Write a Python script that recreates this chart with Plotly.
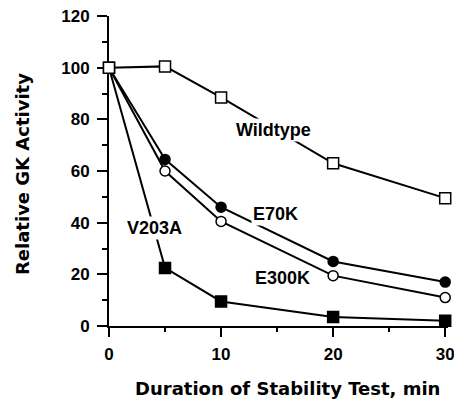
import plotly.graph_objects as go

minutes = [0, 5, 10, 20, 30]
wildtype = [100, 100.5, 88.5, 63, 49.5]
e70k = [100, 64.5, 46, 25, 17]
e300k = [100, 60, 40.5, 19.5, 11]
v203a = [100, 22.5, 9.5, 3.5, 2]

labels = ["Wildtype", "E70K", "E300K", "V203A"]
label_x = [14.64, 14.87, 15.49, 4.08]
label_y = [75.8, 43.4, 18.4, 37.8]

x_ticks = [0, 10, 20, 30]
y_ticks = [0, 20, 40, 60, 80, 100, 120]

fig = go.Figure()

def add(y, symbol, fill, size):
    fig.add_trace(go.Scatter(
        x=minutes, y=y, mode="lines+markers",
        line=dict(color="black", width=2),
        marker=dict(symbol=symbol, size=size, color=fill,
                    line=dict(color="black", width=1.5)),
        cliponaxis=False, showlegend=False,
    ))

add(v203a, "square", "black", 11)
add(e300k, "circle", "white", 10)
add(e70k, "circle", "black", 10)
add(wildtype, "square", "white", 11)

tickfont = dict(family="Liberation Sans, Arial, sans-serif", size=17, color="black", weight="bold")
for t, lx, ly in zip(labels, label_x, label_y):
    fig.add_annotation(x=lx, y=ly, text=t, showarrow=False,
                       xanchor="center", yanchor="middle",
                       font=dict(family="Liberation Sans, Arial, sans-serif", size=18, color="black", weight="bold"),
                       bgcolor="white", borderpad=1)

titlefont = dict(family="DejaVu Sans, sans-serif", size=18, color="black", weight="bold")
fig.add_annotation(xref="paper", yref="paper", x=0.526, y=-0.201,
                   text="Duration of Stability Test, min", showarrow=False,
                   xanchor="center", yanchor="middle", font=titlefont)
fig.add_annotation(xref="paper", yref="paper", x=-0.2548, y=0.489,
                   text="Relative GK Activity", showarrow=False, textangle=-90,
                   xanchor="center", yanchor="middle", font=titlefont)

fig.update_layout(
    width=454, height=400,
    margin=dict(l=109, r=6, t=16, b=74, autoexpand=False),
    paper_bgcolor="white", plot_bgcolor="white",
    xaxis=dict(range=[0, 30.25], tickvals=x_ticks, ticks="outside", ticklen=9, tickwidth=2,
               tickcolor="black", showline=True, linewidth=2, linecolor="black",
               showgrid=False, zeroline=False, tickfont=tickfont, ticklabelstandoff=3,
               ticklabeloverflow="allow", automargin=False,
               minor=dict(tickvals=[5, 15, 25], ticks="outside", ticklen=4, tickwidth=2, tickcolor="black", showgrid=False),
               layer="below traces"),
    yaxis=dict(range=[0, 120], tickvals=y_ticks, ticks="outside", ticklen=10, tickwidth=2,
               tickcolor="black", showline=True, linewidth=2, linecolor="black",
               showgrid=False, zeroline=False, tickfont=tickfont, ticklabelstandoff=4,
               ticklabeloverflow="allow", automargin=False,
               minor=dict(tickvals=[10, 30, 50, 70, 90, 110], ticks="outside", ticklen=5, tickwidth=2, tickcolor="black", showgrid=False),
               layer="below traces"),
)

fig.write_html("out.html")
